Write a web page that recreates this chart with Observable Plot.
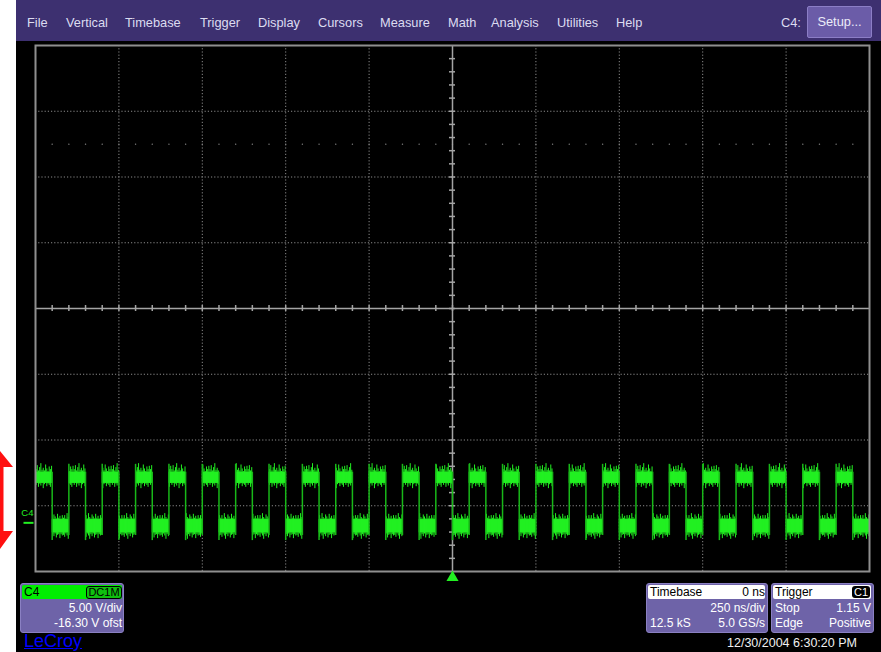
<!DOCTYPE html>
<html><head><meta charset="utf-8">
<script src="https://cdn.jsdelivr.net/npm/d3@7"></script>
<script src="https://cdn.jsdelivr.net/npm/@observablehq/plot@0.6"></script>
<style>
html,body{margin:0;padding:0;background:#000;}
#scope{position:relative;width:881px;height:652px;overflow:hidden;background:#000;font-family:"Liberation Sans",Arial,sans-serif;}
#strip{position:absolute;left:0;top:0;width:16px;height:652px;background:#fff;}
.mi{position:absolute;top:15px;line-height:16px;color:#dcdcf0;font-size:12.8px;white-space:nowrap;}
#setup{position:absolute;left:807px;top:6px;width:63px;height:30px;background:#6b5ca8;border:1px solid #8c7ec6;border-radius:2px;color:#ececf8;font-size:12.8px;line-height:30px;text-align:center;}
.box{position:absolute;background:#6e63a8;border:1px solid #8a80c2;border-radius:3px;}
.t{position:absolute;color:#fff;font-size:12px;line-height:14px;white-space:nowrap;}
.r{text-align:right;}
svg.plot{position:absolute;left:0;top:0;}
</style></head>
<body>
<div id="scope">
  <div id="strip"><svg width="16" height="652" style="position:absolute;left:0;top:0"><path d="M0,451 L13,467 L3.5,467 L3.5,531 L13,531 L0,549 Z" fill="#ff1010"/></svg></div>
</div>
<script>
// ---- data ----
const menuItems = ["File","Vertical","Timebase","Trigger","Display","Cursors","Measure","Math","Analysis","Utilities","Help"];
const menuX = [27,66,125,200,258,318,380,448,491,557,616];
const xDomain = [-1250, 1250];          // ns, 250 ns/div, 10 div
const yDomain = [-3.7, 36.3];           // V, 5 V/div, -16.30 V offset, 8 div
const xGrid = [-1000,-750,-500,-250,250,500,750,1000];
const yGrid = [1.3,6.3,11.3,21.3,26.3,31.3];
const xCenter = 0, yCenter = 16.3;
const dotRowLevel = 28.8;
// transitions of the C4 square wave (ns)
const fallingEdges = [-1200,-1100,-1000,-900,-800,-700,-600,-500,-400,-300,-200,-100,0,100,200,300,400,500,600,700,800,900,1000,1100,1200];
const risingEdges  = [-1150,-1050,-950,-850,-750,-650,-550,-450,-350,-250,-150,-50,50,150,250,350,450,550,650,750,850,950,1050,1150];
// levels (V)
const highCore = [3.0, 3.85];
const lowCore  = [-0.76, 0.25];
const overshoot = 4.45, undershoot = -1.35;
// noise excursions seen on the plateaus (V)
const hiTopPat = [4.05,4.35,3.95,4.2,4.5,4.0,4.15,3.95,4.4,4.1,3.9,4.25,4.05,4.3];
const hiBotPat = [2.85,3.0,2.7,2.95,2.8,3.0,2.6,2.9,3.0,2.75,2.95,2.85,2.7,3.0];
const loTopPat = [0.35,0.55,0.3,0.7,0.4,0.3,0.6,0.45,0.3,0.65,0.35,0.5,0.3,0.55];
const loBotPat = [-0.95,-1.1,-0.85,-1.0,-1.25,-0.9,-1.05,-0.85,-1.15,-0.95,-0.9,-1.2,-0.9,-1.0];

const GREEN = "#22f022", EDGE = "#18b818", GRID = "#8a8a8a", AXIS = "#a4a4a4";

// ---- build tables ----
const edges = [...fallingEdges.map(t=>({t,dir:-1})), ...risingEdges.map(t=>({t,dir:1}))].sort((a,b)=>a.t-b.t);
const plateaus = [];
let start = xDomain[0], high = edges[0].dir === -1;
for (const e of edges) { plateaus.push({x1:start,x2:e.t,high}); start = e.t; high = e.dir === 1; }
plateaus.push({x1:start,x2:xDomain[1],high});
const spikes = [];
plateaus.forEach((p,k)=>{
  const top = p.high?hiTopPat:loTopPat, bot = p.high?hiBotPat:loBotPat, n = top.length;
  for (let i=0;i<n;i++){ const j=(i+k*5)%n; spikes.push({x:p.x1+(p.x2-p.x1)*(i+0.5)/n, y1:bot[j], y2:top[j]}); }
});
const edgeLines = edges.map(e=>({x:e.t, y1: e.dir<0?undershoot:lowCore[0]-0.2, y2: e.dir<0?highCore[1]:overshoot}));
const xMinor = d3.range(xDomain[0]+50, xDomain[1], 50);
const yMinor = d3.range(yDomain[0]+1, yDomain[1], 1).map(v=>+v.toFixed(2));
const tickNs = 9, tickV = 0.23;
const barSymbol = {draw(ctx){ ctx.rect(-5, -1, 10, 2); }};

const plot = Plot.plot({
  width: 881, height: 652,
  marginLeft: 35, marginRight: 12, marginTop: 45, marginBottom: 81,
  x: {domain: xDomain, axis: null},
  y: {domain: yDomain, axis: null},
  style: {background: "transparent", fontFamily: "Liberation Sans, Arial, sans-serif", overflow: "visible"},
  marks: [
    Plot.ruleX(xGrid, {stroke: GRID, strokeWidth: 1, strokeDasharray: "1.2,2"}),
    Plot.ruleY(yGrid, {stroke: GRID, strokeWidth: 1, strokeDasharray: "1.2,2"}),
    Plot.dot(d3.range(xDomain[0]+50, xDomain[1], 50), {x: d=>d, y: ()=>dotRowLevel, r: 0.7, fill: "#8a8a8a", stroke: null}),
    Plot.ruleX([xCenter], {stroke: AXIS, strokeWidth: 1.5}),
    Plot.ruleY([yCenter], {stroke: AXIS, strokeWidth: 1.5}),
    Plot.ruleX(xMinor, {y1: yCenter - tickV, y2: yCenter + tickV, stroke: AXIS, strokeWidth: 1.5}),
    Plot.ruleY(yMinor, {x1: xCenter - tickNs, x2: xCenter + tickNs, stroke: AXIS, strokeWidth: 1.5}),
    Plot.rect(plateaus, {x1: "x1", x2: "x2", y1: d=>d.high?highCore[0]:lowCore[0], y2: d=>d.high?highCore[1]:lowCore[1], fill: GREEN}),
    Plot.ruleX(spikes, {x: "x", y1: "y1", y2: "y2", stroke: GREEN, strokeWidth: 1}),
    Plot.ruleX(edgeLines, {x: "x", y1: "y1", y2: "y2", stroke: EDGE, strokeWidth: 1.5}),
    Plot.frame({stroke: "#8f8f8f", strokeWidth: 2}),
    Plot.dot([xCenter], {x: d=>d, frameAnchor: "bottom", symbol: "triangle", r: 4.5, fill: GREEN, stroke: null, dy: 6}),
    Plot.text([0], {y: d=>d, frameAnchor: "left", text: ()=>"C4", textAnchor: "end", dx: -2, dy: -10, fill: GREEN, fontSize: 9.5}),
    Plot.dot([0], {y: d=>d, frameAnchor: "left", symbol: barSymbol, r: 3, fill: GREEN, stroke: null, dx: -7})
  ]
});
const scope = document.getElementById("scope");
scope.appendChild(plot);

function el(cls, css, text){ const d=document.createElement("div"); d.className=cls; d.style.cssText=css; if(text!=null) d.textContent=text; scope.appendChild(d); return d; }
el("", "position:absolute;left:16px;top:0;width:865px;height:41px;background:#3d3070;");
menuItems.forEach((m,i)=>el("mi", `left:${menuX[i]}px;`, m));
el("mi", "left:781px;", "C4:");
const s = document.createElement("div"); s.id="setup"; s.textContent="Setup..."; scope.appendChild(s);

// C4 box
el("box", "left:20px;top:583px;width:102px;height:48px;");
el("", "position:absolute;left:22px;top:585px;width:100px;height:14px;background:#00ee00;border-radius:2px;");
el("t", "left:24px;top:585px;color:#000;", "C4");
el("", "position:absolute;left:86px;top:586px;width:34px;height:11px;border:1px solid #000;border-radius:3px;background:#10c010;");
el("t", "left:86px;top:585px;width:36px;text-align:center;color:#000;font-size:11px;", "DC1M");
el("t r", "left:24px;top:601px;width:98px;", "5.00 V/div");
el("t r", "left:24px;top:616px;width:98px;", "-16.30 V ofst");
el("t", "left:24px;top:631px;color:#0000ff;font-size:18px;line-height:20px;text-decoration:underline;", "LeCroy");

// Timebase box
el("box", "left:646px;top:583px;width:120px;height:48px;");
el("", "position:absolute;left:648px;top:585px;width:117px;height:14px;background:#fff;border-radius:2px;");
el("t", "left:650px;top:585px;color:#000;", "Timebase");
el("t r", "left:650px;top:585px;width:115px;color:#000;", "0 ns");
el("t r", "left:650px;top:601px;width:115px;", "250 ns/div");
el("t", "left:650px;top:616px;", "12.5 kS");
el("t r", "left:650px;top:616px;width:115px;", "5.0 GS/s");

// Trigger box
el("box", "left:771px;top:583px;width:101px;height:48px;");
el("", "position:absolute;left:773px;top:585px;width:98px;height:14px;background:#fff;border-radius:2px;");
el("t", "left:775px;top:585px;color:#000;", "Trigger");
el("", "position:absolute;left:852px;top:586px;width:18px;height:12px;background:#000;border-radius:3px;");
el("t", "left:852px;top:585px;width:18px;text-align:center;color:#fff;font-size:11px;", "C1");
el("t", "left:775px;top:601px;", "Stop");
el("t r", "left:775px;top:601px;width:96px;", "1.15 V");
el("t", "left:775px;top:616px;", "Edge");
el("t r", "left:775px;top:616px;width:96px;", "Positive");

el("t", "left:727px;top:636px;color:#f0f0f0;font-size:12.5px;", "12/30/2004 6:30:20 PM");
</script>
</body></html>
